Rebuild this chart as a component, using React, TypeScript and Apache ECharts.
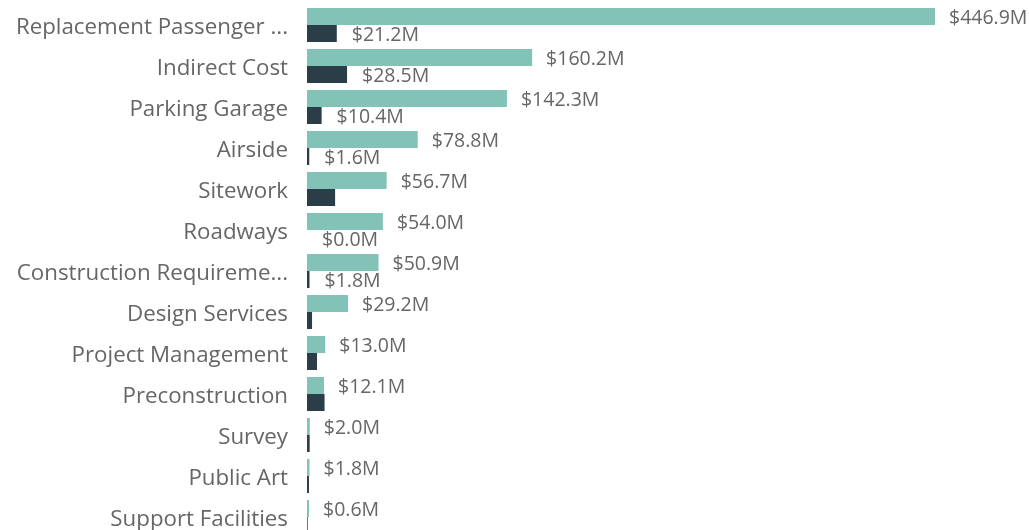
import React, { useEffect, useRef } from "react";
import * as echarts from "echarts";

const categories = [
  "Replacement Passenger ...",
  "Indirect Cost",
  "Parking Garage",
  "Airside",
  "Sitework",
  "Roadways",
  "Construction Requireme...",
  "Design Services",
  "Project Management",
  "Preconstruction",
  "Survey",
  "Public Art",
  "Support Facilities",
];

const budget = [446.9, 160.2, 142.3, 78.8, 56.7, 54.0, 50.9, 29.2, 13.0, 12.1, 2.0, 1.8, 0.6];
const spent = [21.2, 28.5, 10.4, 1.6, 20.0, 0.0, 1.8, 3.6, 7.1, 12.5, 1.9, 1.4, 0.5];
const spentLabelShown = [true, true, true, true, false, true, true, false, false, false, false, false, false];

const TEAL = "#83C2B7";
const DARK = "#2B3D47";
const TEXT = "#666666";
const FONT = "'Open Sans', sans-serif";

const fmt = (v: number) => "$" + v.toFixed(1) + "M";

export default function App() {
  const ref = useRef<HTMLDivElement>(null);

  useEffect(() => {
    if (!ref.current) return;
    const chart = echarts.init(ref.current, undefined, { renderer: "svg" });
    const maxVal = Math.max(...budget);
    chart.setOption({
      animation: false,
      grid: { left: 307, top: 4.5, width: 628, height: 533, containLabel: false },
      xAxis: {
        type: "value",
        min: 0,
        max: maxVal,
        show: false,
      },
      yAxis: {
        type: "category",
        data: categories,
        inverse: true,
        axisLine: { show: false },
        axisTick: { show: false },
        splitLine: { show: false },
        axisLabel: {
          margin: 19,
          color: TEXT,
          fontSize: 22.3,
          fontFamily: FONT,
        },
      },
      series: [
        {
          name: "Budget",
          type: "bar",
          data: budget,
          barGap: "0%",
          barCategoryGap: "17%",
          barMinHeight: 2,
          itemStyle: { color: TEAL },
          label: {
            show: true,
            position: "right",
            distance: 14,
            color: TEXT,
            fontSize: 19.5,
            fontFamily: FONT,
            formatter: (p: any) => fmt(p.value),
          },
        },
        {
          name: "Spent",
          type: "bar",
          data: spent.map((v, i) => ({
            value: v,
            label: { show: spentLabelShown[i] },
          })),
          barGap: "0%",
          barCategoryGap: "17%",
          itemStyle: { color: DARK },
          label: {
            show: true,
            position: "right",
            distance: 15,
            color: TEXT,
            fontSize: 19.5,
            fontFamily: FONT,
            formatter: (p: any) => fmt(p.value),
          },
        },
      ],
    });
    return () => chart.dispose();
  }, []);

  return (
    <div
      ref={ref}
      style={{ position: "fixed", left: 0, top: 0, width: 1029, height: 545 }}
    />
  );
}
